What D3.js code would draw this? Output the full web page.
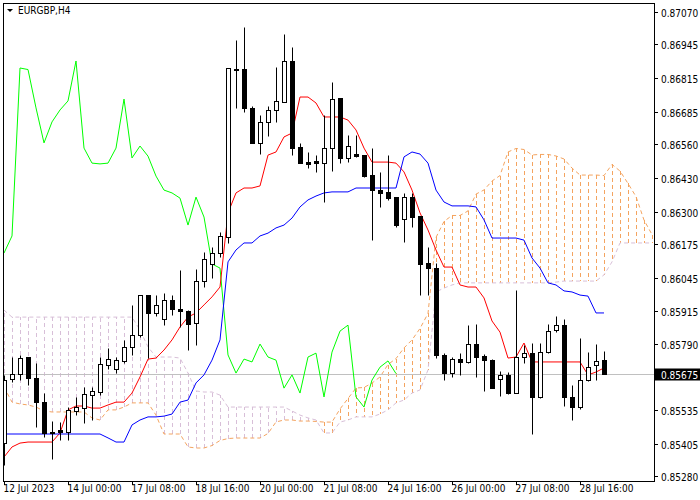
<!DOCTYPE html>
<html><head><meta charset="utf-8">
<script src="https://cdn.jsdelivr.net/npm/d3@7"></script>
<style>body{margin:0;background:#fff}svg{display:block}text{font-family:"DejaVu Sans Condensed","Liberation Sans",sans-serif;font-size:10px}</style>
</head><body>
<script>
const symbolTitle = "EURGBP,H4";
const dateLabels = ["12 Jul 2023","14 Jul 00:00","17 Jul 08:00","18 Jul 16:00","20 Jul 00:00","21 Jul 08:00","24 Jul 16:00","26 Jul 00:00","27 Jul 08:00","28 Jul 16:00"];
const dateLabelIdx = [0,8,16,24,32,40,48,56,64,72];
const priceTicks = [0.87070,0.86945,0.86815,0.86685,0.86560,0.86430,0.86300,0.86175,0.86045,0.85915,0.85790,0.85660,0.85535,0.85405,0.85280];
const opens = [0.85407,0.85654,0.85673,0.85739,0.85658,0.85565,0.85450,0.85457,0.85450,0.85531,
0.85542,0.85592,0.85604,0.85708,0.85693,0.85724,0.85778,0.85824,0.85978,0.85909,
0.85886,0.85959,0.85924,0.85917,0.85870,0.86032,0.86098,0.86140,0.86202,0.86850,
0.86850,0.86700,0.86565,0.86646,0.86692,0.86723,0.86881,0.86549,0.86491,0.86495,
0.86487,0.86545,0.86738,0.86507,0.86522,0.86518,0.86441,0.86383,0.86376,0.86356,
0.86271,0.86356,0.86283,0.86102,0.86082,0.85747,0.85677,0.85731,0.85720,0.85789,
0.85743,0.85727,0.85654,0.85670,0.85600,0.85739,0.85754,0.85585,0.85758,0.85843,
0.85862,0.85585,0.85546,0.85650,0.85708,0.85727];
const highs = [0.85670,0.85739,0.85747,0.85739,0.85716,0.85600,0.85492,0.85488,0.85546,0.85585,
0.85623,0.85623,0.85739,0.85774,0.85739,0.85805,0.85940,0.85978,0.85978,0.85978,
0.85986,0.85978,0.86075,0.85920,0.86079,0.86144,0.86163,0.86221,0.86854,0.86962,
0.87012,0.86707,0.86673,0.86707,0.86858,0.86985,0.86935,0.86565,0.86530,0.86518,
0.86673,0.86800,0.86738,0.86596,0.86596,0.86518,0.86545,0.86453,0.86518,0.86356,
0.86372,0.86372,0.86283,0.86163,0.86102,0.85754,0.85739,0.85754,0.85862,0.85866,
0.85751,0.85731,0.85685,0.85681,0.85998,0.85785,0.85793,0.85793,0.85866,0.85897,
0.85886,0.85631,0.85812,0.85758,0.85789,0.85762];
const lows = [0.85322,0.85643,0.85650,0.85631,0.85469,0.85430,0.85346,0.85419,0.85419,0.85515,
0.85484,0.85496,0.85592,0.85693,0.85677,0.85716,0.85747,0.85816,0.85735,0.85897,
0.85862,0.85901,0.85855,0.85766,0.85785,0.86009,0.86044,0.86125,0.86179,0.86700,
0.86684,0.86565,0.86522,0.86592,0.86646,0.86723,0.86518,0.86487,0.86468,0.86453,
0.86337,0.86457,0.86487,0.86491,0.86511,0.86433,0.86190,0.86318,0.86345,0.86241,
0.86183,0.86241,0.85978,0.85978,0.85735,0.85650,0.85662,0.85670,0.85716,0.85662,
0.85608,0.85619,0.85589,0.85596,0.85600,0.85716,0.85442,0.85581,0.85754,0.85835,
0.85550,0.85496,0.85538,0.85646,0.85650,0.85673];
const closes = [0.85650,0.85673,0.85735,0.85658,0.85565,0.85446,0.85446,0.85450,0.85535,0.85546,
0.85596,0.85608,0.85712,0.85731,0.85727,0.85778,0.85824,0.85978,0.85909,0.85940,
0.85959,0.85924,0.85917,0.85866,0.86032,0.86117,0.86140,0.86206,0.86854,0.86848,
0.86700,0.86565,0.86646,0.86692,0.86727,0.86881,0.86545,0.86487,0.86484,0.86487,
0.86545,0.86734,0.86507,0.86553,0.86514,0.86437,0.86383,0.86372,0.86352,0.86248,
0.86356,0.86279,0.86098,0.86082,0.85747,0.85677,0.85731,0.85720,0.85789,0.85739,
0.85727,0.85619,0.85670,0.85600,0.85739,0.85754,0.85585,0.85758,0.85839,0.85862,
0.85585,0.85546,0.85650,0.85700,0.85724,0.85675];
const tenkan = [0.85353,0.85392,0.85407,0.85411,0.85411,0.85411,0.85411,0.85446,0.85535,0.85550,
0.85550,0.85542,0.85542,0.85554,0.85565,0.85565,0.85600,0.85662,0.85731,0.85735,
0.85766,0.85805,0.85855,0.85893,0.85909,0.85940,0.85971,0.86009,0.86295,0.86372,
0.86391,0.86391,0.86399,0.86518,0.86530,0.86588,0.86603,0.86742,0.86742,0.86719,
0.86665,0.86665,0.86665,0.86653,0.86615,0.86545,0.86491,0.86491,0.86491,0.86487,
0.86453,0.86383,0.86295,0.86229,0.86152,0.86086,0.86086,0.86017,0.86009,0.86009,
0.85967,0.85878,0.85835,0.85735,0.85739,0.85793,0.85720,0.85720,0.85720,0.85720,
0.85720,0.85720,0.85720,0.85670,0.85681,0.85697];
const kijun = [0.85442,0.85442,0.85442,0.85442,0.85442,0.85442,0.85442,0.85442,0.85442,0.85442,
0.85442,0.85442,0.85442,0.85427,0.85411,0.85411,0.85477,0.85496,0.85508,0.85508,
0.85511,0.85519,0.85565,0.85573,0.85639,0.85670,0.85727,0.85805,0.86106,0.86152,
0.86179,0.86179,0.86206,0.86217,0.86237,0.86248,0.86275,0.86318,0.86345,0.86360,
0.86372,0.86376,0.86376,0.86376,0.86391,0.86391,0.86391,0.86391,0.86391,0.86391,
0.86511,0.86530,0.86522,0.86487,0.86383,0.86337,0.86322,0.86322,0.86322,0.86318,
0.86268,0.86198,0.86198,0.86198,0.86198,0.86190,0.86121,0.86082,0.86025,0.86017,
0.85994,0.85990,0.85978,0.85974,0.85909,0.85909];
const senkouAEarly = [0.85623,0.85565,0.85558,0.85554,0.85546,0.85531,0.85527,0.85527,0.85527,0.85527,
0.85527,0.85504,0.85496,0.85535,0.85535,0.85546,0.85562,0.85562,0.85562,0.85515,
0.85442,0.85442,0.85442,0.85392,0.85388,0.85388];
const senkouB = [0.85920,0.85893,0.85893,0.85893,0.85893,0.85893,0.85893,0.85893,0.85893,0.85893,
0.85893,0.85893,0.85893,0.85893,0.85893,0.85893,0.85893,0.85843,0.85778,0.85739,
0.85739,0.85739,0.85735,0.85677,0.85608,0.85604,0.85604,0.85592,0.85546,0.85546,
0.85546,0.85546,0.85546,0.85546,0.85546,0.85546,0.85531,0.85515,0.85504,0.85496,
0.85446,0.85446,0.85488,0.85496,0.85508,0.85508,0.85508,0.85519,0.85535,0.85562,
0.85573,0.85600,0.85612,0.85689,0.85990,0.86005,0.86017,0.86025,0.86025,0.86025,
0.86025,0.86025,0.86025,0.86025,0.86025,0.86025,0.86025,0.86025,0.86025,0.86028,
0.86032,0.86032,0.86032,0.86032,0.86032,0.86056,0.86106,0.86179,0.86179,0.86179,
0.86179,0.86179];
const shift = 26;
const lastPrice = "0.85675";

const W=700,H=500, L=3, T=3, R=654, B=481;
const svg=d3.select("body").append("svg").attr("width",W).attr("height",H);
const x=d3.scaleLinear().domain([0,81]).range([4,652]);
const y=d3.scaleLinear().domain([0.85280,0.87070]).range([476,12]);
const px=v=>Math.round(x(v))+0.5;
const py=v=>Math.round(y(v))+0.5;

svg.append("defs").append("clipPath").attr("id","c").append("rect").attr("x",L+1).attr("y",T+1).attr("width",R-L-1).attr("height",B-T-1);
const g=svg.append("g").attr("clip-path","url(#c)");

const senkouA = senkouAEarly.concat(tenkan.map((t,i)=>(t+kijun[i])/2)).slice(0,senkouB.length);
const ORANGE="#f4a460", LILAC="#d8bfd8";
senkouA.forEach((a,i)=>{
  const b=senkouB[i];
  g.append("line").attr("x1",px(i)).attr("x2",px(i)).attr("y1",Math.round(y(a))).attr("y2",Math.round(y(b)))
   .attr("stroke",a>b?ORANGE:LILAC).attr("stroke-dasharray","4,3").attr("shape-rendering","crispEdges");
});
const ln=d3.line().x((d,i)=>x(d[0])).y(d=>y(d[1]));
g.append("path").attr("d",ln(senkouB.map((v,i)=>[i,v]))).attr("fill","none").attr("stroke",LILAC).attr("stroke-dasharray","4,3");
g.append("path").attr("d",ln(senkouA.map((v,i)=>[i,v]))).attr("fill","none").attr("stroke",ORANGE).attr("stroke-dasharray","4,3");

g.append("line").attr("x1",L).attr("x2",R).attr("y1",py(+lastPrice)).attr("y2",py(+lastPrice)).attr("stroke","#c0c0c0");

g.append("path").attr("d",ln(closes.slice(shift).map((v,i)=>[i,v]))).attr("fill","none").attr("stroke","#00ff00");
g.append("path").attr("d",ln(tenkan.map((v,i)=>[i,v]))).attr("fill","none").attr("stroke","#ff0000");
g.append("path").attr("d",ln(kijun.map((v,i)=>[i,v]))).attr("fill","none").attr("stroke","#0000ff");

opens.forEach((o,i)=>{
  const c=closes[i], cx=px(i);
  g.append("line").attr("x1",cx).attr("x2",cx).attr("y1",py(highs[i])).attr("y2",py(lows[i])).attr("stroke","#000");
  const top=Math.round(y(Math.max(o,c))), bot=Math.round(y(Math.min(o,c)));
  if(bot-top<1){
    g.append("line").attr("x1",cx-2).attr("x2",cx+3).attr("y1",top+0.5).attr("y2",top+0.5).attr("stroke","#000");
  } else {
    g.append("rect").attr("x",cx-2).attr("y",top+0.5).attr("width",4).attr("height",bot-top).attr("fill",c>=o?"#fff":"#000").attr("stroke","#000");
  }
});

svg.append("rect").attr("x",L+0.5).attr("y",T+0.5).attr("width",R-L).attr("height",B-T).attr("fill","none").attr("stroke","#000");

priceTicks.forEach(p=>{
  const yy=py(p);
  svg.append("line").attr("x1",R).attr("x2",R+4).attr("y1",yy).attr("y2",yy).attr("stroke","#000");
  if(Math.abs(yy-py(+lastPrice))>8) svg.append("text").attr("x",R+7).attr("y",yy+4).text(p.toFixed(5));
});
dateLabelIdx.forEach((idx,k)=>{
  const xx=px(idx);
  svg.append("line").attr("x1",xx).attr("x2",xx).attr("y1",B).attr("y2",B+4).attr("stroke","#000");
  svg.append("text").attr("x",xx-1).attr("y",B+11).text(dateLabels[k]);
});
const ly=py(+lastPrice);
svg.append("rect").attr("x",R).attr("y",ly-6).attr("width",W-R).attr("height",12).attr("fill","#000");
svg.append("text").attr("x",R+7).attr("y",ly+4).attr("fill","#fff").text(lastPrice);
svg.append("path").attr("d","M7,9 L13,9 L10,12 Z").attr("fill","#000");
svg.append("text").attr("x",18).attr("y",14).text(symbolTitle);
</script>
</body></html>
